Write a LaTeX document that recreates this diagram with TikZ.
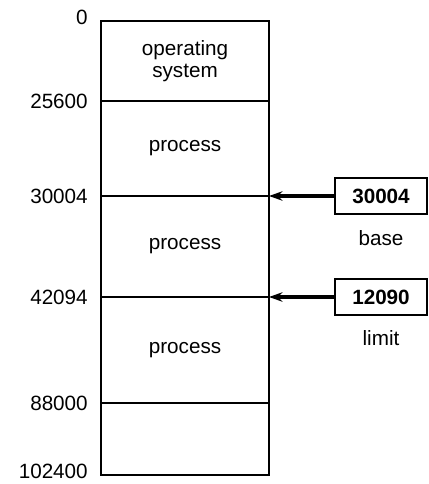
\documentclass[tikz,border=0pt]{standalone}
\usepackage{fontspec}
\setmainfont{Liberation Sans}
\usetikzlibrary{positioning,arrows.meta}
\newcommand{\figfont}{\fontsize{15.5}{17}\selectfont}
\tikzset{
    seg/.style={draw, line width=0.8pt, rectangle, minimum width=126pt, inner sep=0pt, outer sep=0pt, align=center},
    addr/.style={inner sep=0pt, anchor=east},
    reg/.style={draw, line width=0.8pt, rectangle, minimum width=69pt, minimum height=27pt, inner sep=0pt, outer sep=0pt, font=\figfont\bfseries},
    regarrow/.style={line width=2.4pt, -{Stealth[length=10pt, width=7pt]}}
}
\begin{document}
\begin{tikzpicture}[x=0.75pt, y=-0.75pt, font=\figfont]
        \useasboundingbox (0,0) rectangle (428,484);
        % memory
        \node[seg, minimum height=60pt] (os) at (185,61) {operating\\system};
        \node[seg, minimum height=71.25pt, below=0pt of os] (p1) {process};
        \node[seg, minimum height=75.75pt, below=0pt of p1] (p2) {process};
        \node[seg, minimum height=79.5pt, below=0pt of p2] (p3) {process};
        \node[seg, minimum height=54pt, below=0pt of p3] (free) {};
        % addresses
        \node[addr, left=9.75pt of os.north west, yshift=3pt] (a0) {0};
        \node[addr, left=9.75pt of os.south west] (a1) {25600};
        \node[addr, left=9.75pt of p1.south west] (a2) {30004};
        \node[addr, left=9.75pt of p2.south west] (a3) {42094};
        \node[addr, left=9.75pt of p3.south west] (a4) {88000};
        \node[addr, left=9.75pt of free.south west, yshift=3pt] (a5) {102400};
        % registers
        \node[reg, right=49.5pt of p1.south east] (basereg) {30004};
        \node[below=9pt of basereg] (baselbl) {base};
        \node[reg, right=49.5pt of p2.south east] (limitreg) {12090};
        \node[below=8pt of limitreg] (limitlbl) {limit};
        \draw[regarrow] (basereg) -- (p1.south east);
        \draw[regarrow] (limitreg) -- (p2.south east);
    \end{tikzpicture}
\end{document}
